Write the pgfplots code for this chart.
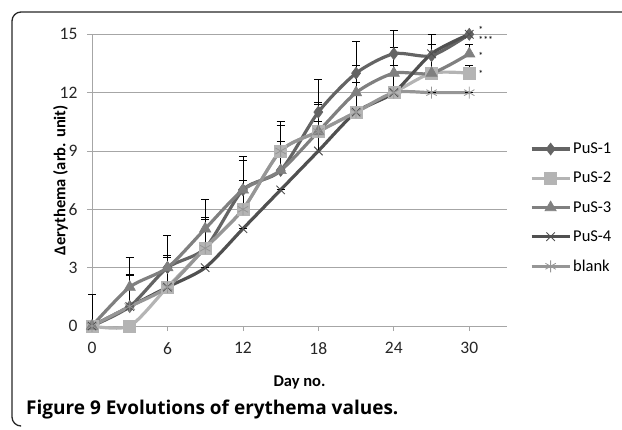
\documentclass[border=0pt]{standalone}
\usepackage{pgfplots}
\pgfplotsset{compat=1.18}
\usepackage{fontspec}
\setmainfont{Carlito}
\newfontfamily\capfont{Open Sans}
\definecolor{cA}{HTML}{646464}
\definecolor{cB}{HTML}{B4B4B4}
\definecolor{cC}{HTML}{808080}
\definecolor{cD}{HTML}{505050}
\definecolor{cE}{HTML}{969696}
\definecolor{gridc}{HTML}{A6A6A6}
\begin{document}
\begin{tikzpicture}[x=1pt,y=1pt]
\useasboundingbox (0,0) rectangle (622,429);
\draw[line width=1.3pt, black!85, rounded corners=9pt] (622,417) -- (12,417) -- (12,3) -- (20,3);
\node[anchor=base west, font=\capfont\bfseries\fontsize{19}{21}\selectfont, inner sep=0pt] at (26,14) {Figure 9 Evolutions of erythema values.};
\begin{axis}[
  at={(92pt,103pt)}, anchor=south west,
  scale only axis, width=415pt, height=291.7pt,
  xmin=0, xmax=33, ymin=0, ymax=15,
  xtick={0,6,...,30}, ytick={0,3,...,15},
  axis x line*=bottom, axis y line*=left,
  axis line style={gridc, line width=0.8pt, -},
  ymajorgrids, grid style={gridc, line width=0.8pt},
  tick style={gridc, line width=0.8pt},
  major tick length=5pt,
  xtick pos=bottom, ytick pos=left,
  tick align=outside,
  /pgf/number format/assume math mode=true,
  ticklabel style={font=\fontsize{17.5}{19}\selectfont, text=black!85},
  xticklabel style={yshift=-8pt},
  yticklabel style={xshift=-6pt},
  xlabel={\textbf{Day no.}}, ylabel={\textbf{Δerythema (arb. unit)}},
  label style={font=\fontsize{16.5}{18}\selectfont},
  xlabel style={yshift=-14pt},
  ylabel style={yshift=-15pt},
  clip=false,
  legend style={at={(1.055,0.635)}, anchor=north west, draw=none, fill=none,
    font=\fontsize{16.5}{18}\selectfont, row sep=13pt, inner sep=0pt},
  legend cell align=left,
  legend image code/.code={
    \draw[mark repeat=2,mark phase=2] plot coordinates {(0pt,0pt)(19pt,0pt)(38pt,0pt)};},
  every axis plot/.append style={line width=3.2pt, smooth, tension=0.45},
  error bars/y dir=plus, error bars/y explicit,
  error bars/error bar style={black, line width=0.8pt},
  error bars/error mark options={black, line width=1pt, mark size=4pt, rotate=90},
]
\addplot[cA, mark=diamond*, mark size=6pt, mark options={cA, line width=0.6pt}] table[x=x,y=y,y error plus=e] {
x y e
0 0 1.6
3 1 1.65
6 3 0.6
9 4 1.6
12 7 1.5
15 8 1.5
18 11 1.7
21 13 1.65
24 14 1.2
27 13.9 0.6
30 15 0
};
\addlegendentry{PuS-1}
\addplot[cB, mark=square*, mark size=6pt, mark options={cB, line width=0.6pt}] table[x=x,y=y,y error plus=e] {
x y e
0 0 0
3 0 0
6 2 1.5
9 4 1.5
12 6 1.5
15 9 1.3
18 10 1.5
21 11 1.5
24 12 1.4
27 13 1.5
30 13 0.4
};
\addlegendentry{PuS-2}
\addplot[cC, mark=triangle*, mark size=6.5pt, mark options={cC, line width=0.6pt}] table[x=x,y=y,y error plus=e] {
x y e
0 0 0
3 2 1.5
6 3 1.65
9 5 1.5
12 7 1.7
15 8 2.5
18 10 1.4
21 12 1.4
24 13 1.3
27 13 1.5
30 14 0.5
};
\addlegendentry{PuS-3}
\addplot[cD, mark=x, mark size=6pt, mark options={cD, line width=0.9pt}] table[x=x,y=y,y error plus=e] {
x y e
0 0 0
3 1 0
6 2 0
9 3 0
12 5 0
15 7 0
18 9 1.5
21 11 0
24 12 0
27 14 1.0
30 15 0
};
\addlegendentry{PuS-4}
\addplot[cE, mark=asterisk, mark size=6pt, mark options={cE, line width=0.8pt}] table[x=x,y=y,y error plus=e] {
x y e
0 0 0
3 1 1.6
6 2 0
9 4 0
12 6 0
15 9 0
18 10 0
21 11 0
24 12 0
27 12 0
30 12 0
};
\addlegendentry{blank}
\tikzset{ast/.style={anchor=west, font=\fontsize{10}{10}\selectfont, inner sep=0pt, text height=3pt, text depth=0pt}}
\node[ast] at (axis cs:30.7,15.1) {*};
\node[ast] at (axis cs:30.7,14.6) {***};
\node[ast] at (axis cs:30.7,13.8) {*};
\node[ast] at (axis cs:30.7,12.85) {*};
\end{axis}
\end{tikzpicture}
\end{document}
